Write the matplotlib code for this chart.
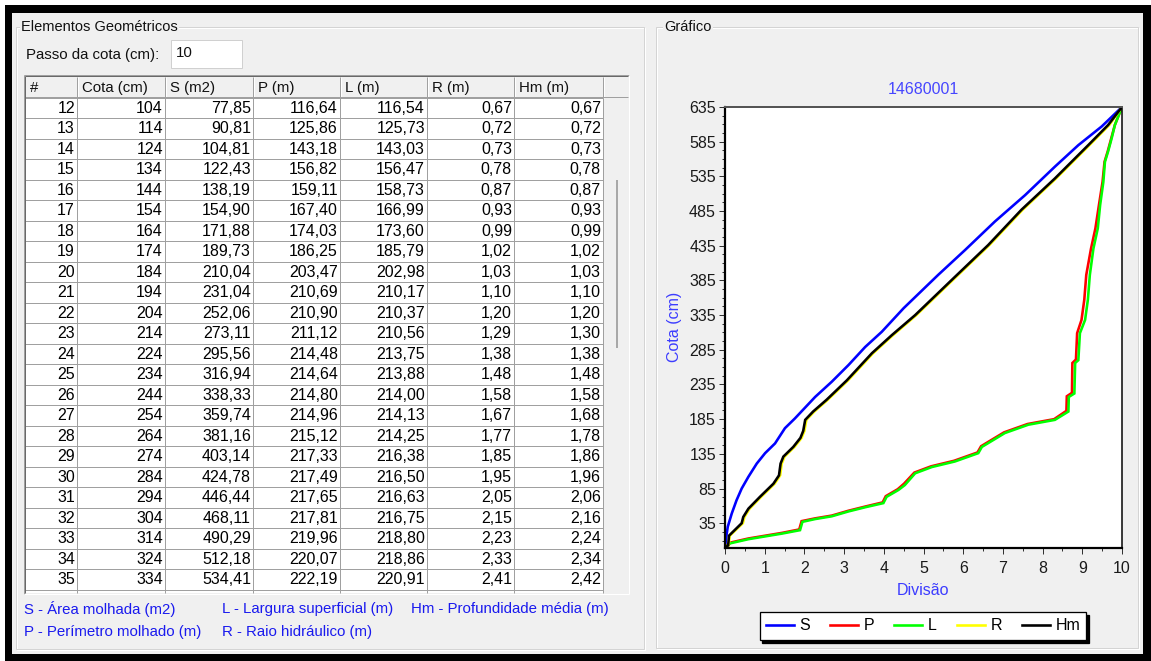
import matplotlib.pyplot as plt
from matplotlib import font_manager
from matplotlib.lines import Line2D
from matplotlib.patches import Rectangle
from matplotlib.ticker import FixedLocator, MultipleLocator

W, H = 1151, 661

# tabela de elementos geometricos
linhas = list(range(12, 36))
cota = [104, 114, 124, 134, 144, 154, 164, 174, 184, 194, 204, 214,
        224, 234, 244, 254, 264, 274, 284, 294, 304, 314, 324, 334]
area = [77.85, 90.81, 104.81, 122.43, 138.19, 154.90, 171.88, 189.73,
        210.04, 231.04, 252.06, 273.11, 295.56, 316.94, 338.33, 359.74,
        381.16, 403.14, 424.78, 446.44, 468.11, 490.29, 512.18, 534.41]
perimetro = [116.64, 125.86, 143.18, 156.82, 159.11, 167.40, 174.03, 186.25,
             203.47, 210.69, 210.90, 211.12, 214.48, 214.64, 214.80, 214.96,
             215.12, 217.33, 217.49, 217.65, 217.81, 219.96, 220.07, 222.19]
largura = [116.54, 125.73, 143.03, 156.47, 158.73, 166.99, 173.60, 185.79,
           202.98, 210.17, 210.37, 210.56, 213.75, 213.88, 214.00, 214.13,
           214.25, 216.38, 216.50, 216.63, 216.75, 218.80, 218.86, 220.91]
raio = [0.67, 0.72, 0.73, 0.78, 0.87, 0.93, 0.99, 1.02, 1.03, 1.10, 1.20, 1.29,
        1.38, 1.48, 1.58, 1.67, 1.77, 1.85, 1.95, 2.05, 2.15, 2.23, 2.33, 2.41]
prof_media = [0.67, 0.72, 0.73, 0.78, 0.87, 0.93, 0.99, 1.02, 1.03, 1.10, 1.20, 1.30,
              1.38, 1.48, 1.58, 1.68, 1.78, 1.86, 1.96, 2.06, 2.16, 2.24, 2.34, 2.42]
cabecalho = ["#", "Cota (cm)", "S (m2)", "P (m)", "L (m)", "R (m)", "Hm (m)"]

# curvas do grafico: divisao (0-10) x cota (cm)
s_div = [0, 0.03, 0.07, 0.17, 0.29, 0.42, 0.59, 0.80, 1.01, 1.26, 1.51, 1.76,
         2.27, 2.69, 3.11, 3.53, 3.95, 4.50, 5.37, 6.05, 6.80, 7.56, 8.31,
         8.90, 9.49, 10.0]
s_cota = [0, 15, 30, 49, 68, 85, 102, 121, 136, 150, 172, 186,
          217, 239, 263, 289, 311, 345, 393, 429, 470, 508, 549,
          580, 607, 635]

p_div = [0, 0.13, 0.59, 1.01, 1.43, 1.87, 1.93, 2.27, 2.69, 3.11, 3.53, 3.97,
         4.05, 4.35, 4.51, 4.77, 5.19, 5.77, 6.36, 6.45, 7.03, 7.62, 8.29,
         8.60, 8.61, 8.74, 8.75, 8.84, 8.87, 8.98, 9.05, 9.10, 9.22, 9.33,
         9.42, 9.51, 9.56, 9.64, 9.73, 9.82, 10.0]
p_cota = [0, 7, 13, 17, 21, 26, 38, 42, 46, 53, 59, 65,
          74, 84, 92, 108, 117, 125, 137, 146, 166, 178, 185,
          197, 218, 223, 266, 271, 309, 328, 357, 393, 431, 460,
          494, 527, 556, 571, 590, 609, 635]

l_div = [0, 0.13, 0.59, 1.01, 1.43, 1.89, 1.95, 2.27, 2.69, 3.11, 3.53, 3.99,
         4.07, 4.37, 4.53, 4.79, 5.21, 5.79, 6.38, 6.47, 7.05, 7.64, 8.31,
         8.65, 8.66, 8.80, 8.82, 8.90, 8.94, 9.07, 9.14, 9.19, 9.28, 9.39,
         9.45, 9.53, 9.57, 9.65, 9.74, 9.82, 10.0]
l_cota = [0, 6, 12, 16, 20, 25, 37, 41, 45, 52, 58, 64,
          73, 83, 90, 107, 116, 124, 136, 145, 165, 177, 184,
          196, 217, 222, 266, 270, 309, 328, 357, 393, 431, 460,
          494, 527, 556, 571, 590, 609, 635]

r_div = [0, 0.09, 0.12, 0.45, 0.49, 0.62, 0.91, 1.25, 1.39, 1.43, 1.50, 1.75,
         1.93, 2.00, 2.05, 2.25, 2.59, 3.10, 3.73, 4.23, 4.82, 5.82, 6.66,
         7.50, 8.34, 9.18, 9.68, 10.0]
r_cota = [0, 3, 17, 35, 44, 56, 73, 92, 104, 121, 131, 145,
          158, 168, 184, 196, 213, 241, 280, 306, 335, 390, 436,
          487, 532, 580, 609, 635]

hm_div = [0, 0.08, 0.10, 0.42, 0.46, 0.59, 0.88, 1.22, 1.36, 1.40, 1.47, 1.72,
          1.90, 1.97, 2.02, 2.22, 2.56, 3.07, 3.70, 4.20, 4.79, 5.79, 6.63,
          7.47, 8.31, 9.15, 9.65, 10.0]
hm_cota = [0, 3, 17, 35, 44, 56, 73, 92, 104, 121, 131, 145,
           158, 168, 184, 196, 213, 241, 280, 306, 335, 390, 436,
           487, 532, 580, 609, 635]

series = [("S", s_div, s_cota, "#0000ff"),
          ("P", p_div, p_cota, "#ff0000"),
          ("L", l_div, l_cota, "#00ff00"),
          ("R", r_div, r_cota, "#ffff00"),
          ("Hm", hm_div, hm_cota, "#000000")]

nomes = {f.name for f in font_manager.fontManager.ttflist}
fonte = "Liberation Sans"
fonte_num = "Liberation Sans Narrow" if "Liberation Sans Narrow" in nomes else fonte
plt.rcParams["font.family"] = [fonte, "DejaVu Sans"]

PX = 0.72  # pontos por pixel a 100 dpi
FUNDO = "#f0f0f0"
AZUL = "#1a1aee"

fig = plt.figure(figsize=(W / 100, H / 100), dpi=100)
fig.patch.set_facecolor("white")
bg = fig.add_axes([0, 0, 1, 1])
bg.set_xlim(0, W)
bg.set_ylim(H, 0)
bg.axis("off")


def linha(x0, y0, x1, y1, cor, px=1.0):
    bg.plot([x0, x1], [y0, y1], color=cor, lw=px * PX, solid_capstyle="butt")


def caixa(x0, y0, x1, y1, cor, borda="none", px=1.0):
    bg.add_patch(Rectangle((x0, y0), x1 - x0, y1 - y0, facecolor=cor,
                           edgecolor=borda, lw=px * PX))


def grupo(x0, y0, x1, y1, titulo, tx):
    caixa(x0 + 1, y0 + 1, x1 + 1, y1 + 1, "none", "white")
    caixa(x0, y0, x1, y1, "none", "#d4d4d4")
    bg.text(tx, y0, titulo, ha="left", va="center", fontsize=10.5,
            color="#111111",
            bbox=dict(facecolor=FUNDO, edgecolor="none", pad=1))


# moldura da janela
caixa(5, 5, W, H, "black")
caixa(12, 13, 1143, 654, FUNDO)

grupo(16, 27, 644, 649, "Elementos Geométricos", 21)
grupo(656, 27, 1138, 648, "Gráfico", 664)

# passo da cota
bg.text(26, 55, "Passo da cota (cm):", ha="left", va="center", fontsize=10.8, color="#111111")
caixa(171, 40, 242, 68, "white", "#d0d0d0")
bg.text(176, 53, "10", ha="left", va="center", fontsize=10.8, color="#111111")

# tabela
cols = [25, 77, 165, 253, 340, 427, 514, 603]
topo, base_cab, alt = 76, 97.5, 20.5
fim = 593
caixa(25, topo, 628, fim, FUNDO)
caixa(25, base_cab, cols[-1], fim, "white")
for j, txt in enumerate(cabecalho):
    bg.text(cols[j] + 5, (topo + base_cab) / 2 + 1, txt, ha="left", va="center",
            fontsize=10.8, color="#111111")
for x in cols[1:]:
    linha(x, topo + 1, x, base_cab, "#a0a0a0")
    linha(x + 1, topo + 1, x + 1, base_cab, "white")
    linha(x, base_cab, x, fim, "#a0a0a0")
for k in range(len(linhas) + 1):
    y = base_cab + alt * k
    linha(25, y, cols[-1], y, "#a0a0a0")
linha(25, base_cab - 1, 628, base_cab - 1, "#a0a0a0")
for i in range(len(linhas)):
    yc = base_cab + alt * (i + 0.5) + 0.5
    valores = [str(linhas[i]), str(cota[i])] + [
        f"{v:.2f}".replace(".", ",")
        for v in (area[i], perimetro[i], largura[i], raio[i], prof_media[i])]
    for j, txt in enumerate(valores):
        bg.text(cols[j + 1] - 2, yc, txt, ha="right", va="center",
                fontsize=11.5, family=[fonte_num, "DejaVu Sans"], color="black")
# bordas da tabela e barra de rolagem
linha(24, topo - 1, 629, topo - 1, "#a0a0a0")
linha(25, topo, 628, topo, "#696969")
linha(24, topo - 1, 24, fim + 1, "#a0a0a0")
linha(25.5, topo, 25.5, fim, "#696969")
linha(24, fim + 1, 629, fim + 1, "white")
linha(629, topo - 1, 629, fim + 1, "white")
linha(617, 180, 617, 348, "#a8a8a8", 2)

# legenda das grandezas
bg.text(24, 609, "S - Área molhada (m2)", ha="left", va="center", fontsize=10.8, color=AZUL)
bg.text(222, 609, "L - Largura superficial (m)", ha="left", va="center", fontsize=10.8, color=AZUL)
bg.text(411, 609, "Hm - Profundidade média (m)", ha="left", va="center", fontsize=10.8, color=AZUL)
bg.text(24, 632, "P - Perímetro molhado (m)", ha="left", va="center", fontsize=10.8, color=AZUL)
bg.text(222, 632, "R - Raio hidráulico (m)", ha="left", va="center", fontsize=10.8, color=AZUL)

# grafico
x0, x1, y_top, y_bot = 725, 1122, 107, 547.5
ax = fig.add_axes([x0 / W, 1 - y_bot / H, (x1 - x0) / W, (y_bot - y_top) / H])
ax.set_facecolor("white")
for nome, xs, ys, cor in series:
    ax.plot(xs, ys, color=cor, lw=2.6 * PX, label=nome, solid_joinstyle="miter")
ax.set_xlim(0, 10)
ax.set_ylim(0, 635)
ax.xaxis.set_major_locator(MultipleLocator(1))
ax.xaxis.set_minor_locator(MultipleLocator(0.5))
ax.yaxis.set_major_locator(FixedLocator(list(range(35, 636, 50))))
ax.yaxis.set_minor_locator(FixedLocator([10 + 12.5 * k for k in range(51)]))
ax.tick_params(which="both", direction="out", color="#333333", labelcolor="#1a1a1a",
               labelsize=11.5)
ax.tick_params(axis="y", pad=2)
ax.tick_params(axis="x", pad=5)
ax.tick_params(which="major", length=4.5, width=1 * PX)
ax.tick_params(which="minor", length=2.2, width=1 * PX)
ax.spines["left"].set_linewidth(2.2 * PX)
ax.spines["bottom"].set_linewidth(2.2 * PX)
ax.spines["top"].set_color("#555555")
ax.spines["top"].set_linewidth(2 * PX)
ax.spines["right"].set_linewidth(1.5 * PX)
ax.set_title("14680001", color="#4646ff", fontsize=11.5, pad=9)
ax.set_xlabel("Divisão", color="#3c3cff", fontsize=11.5, labelpad=5)
ax.set_ylabel("Cota (cm)", color="#3c3cff", fontsize=11.5, labelpad=5)

alcas = [Line2D([], [], color=cor, lw=2.6 * PX) for _, _, _, cor in series]
leg = fig.legend(alcas, [s[0] for s in series], ncol=5, loc="center",
                 bbox_to_anchor=(923 / W, 1 - 626 / H), fontsize=11.5,
                 handlelength=1.75, handletextpad=0.35, columnspacing=1.25,
                 borderpad=0.4, fancybox=False, framealpha=1,
                 shadow={"color": "black", "alpha": 1})
leg.get_frame().set_edgecolor("black")
leg.get_frame().set_linewidth(1.3 * PX)

fig.savefig("out.png", dpi=100)
